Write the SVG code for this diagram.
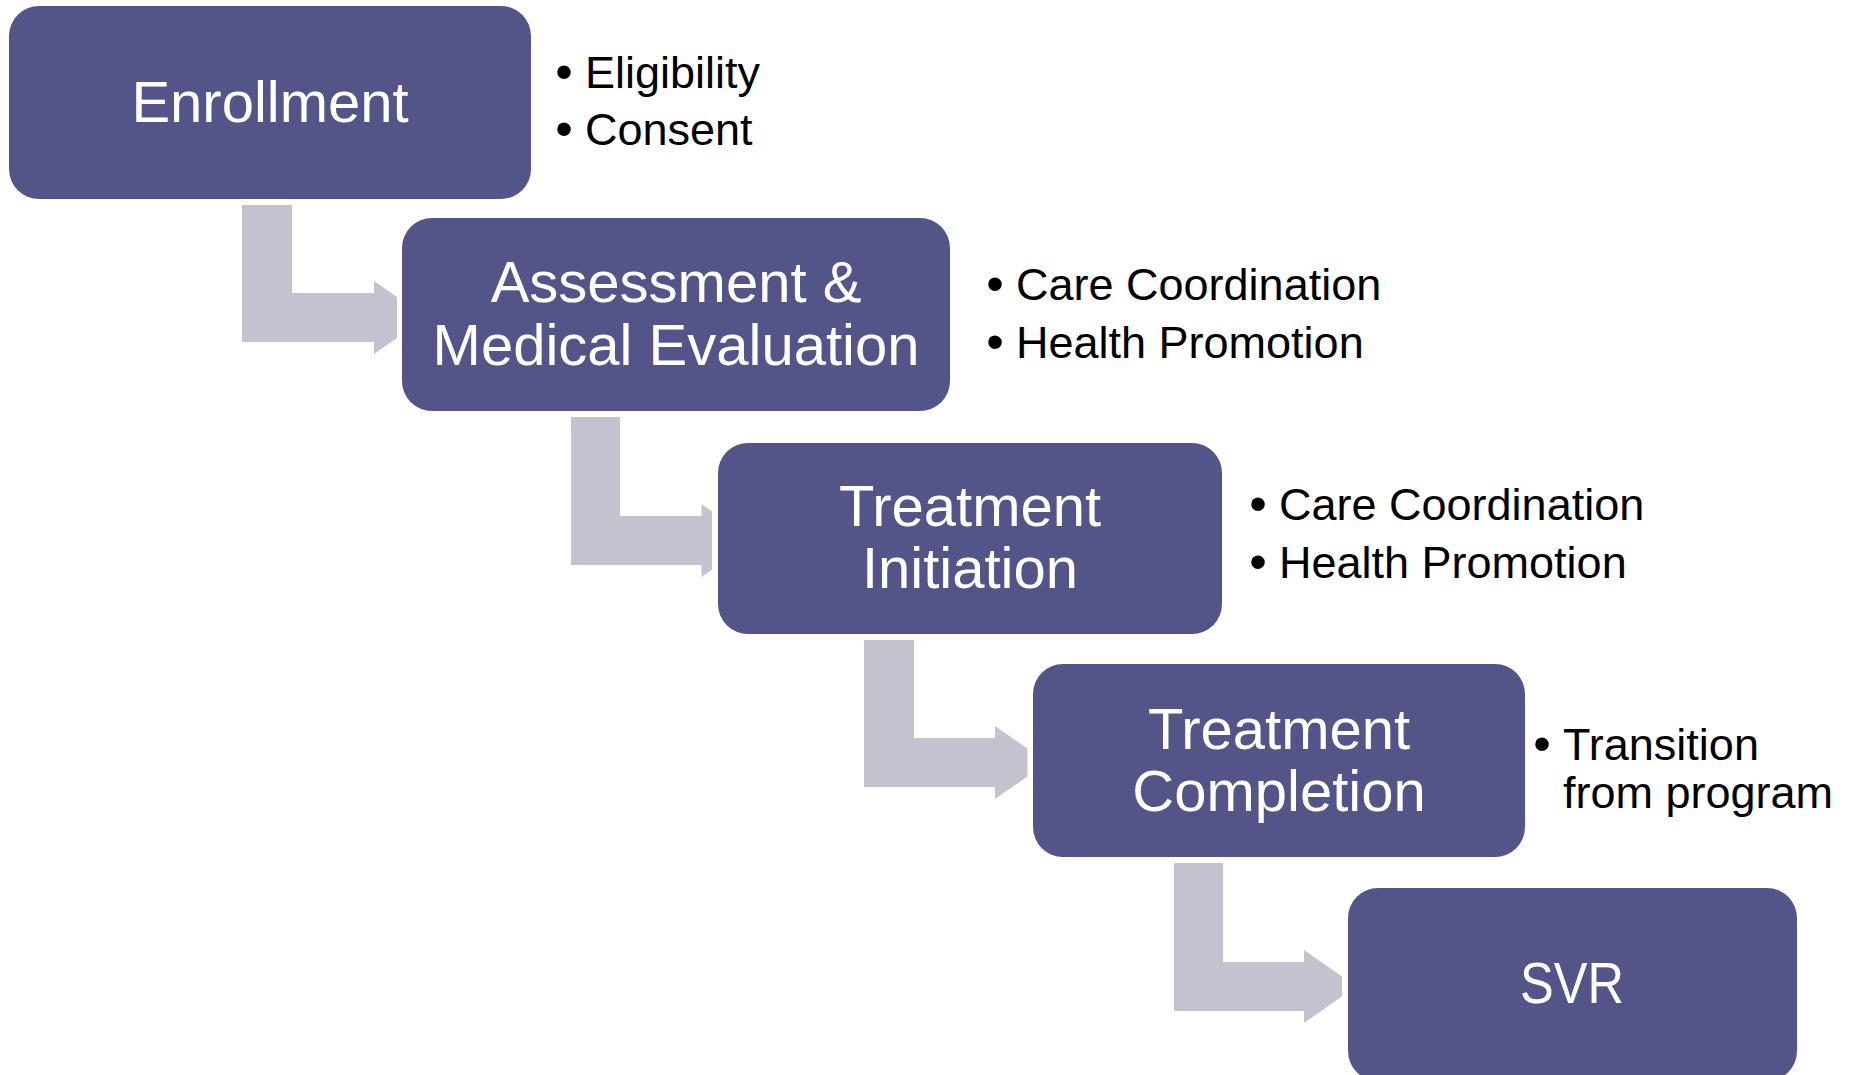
<svg xmlns="http://www.w3.org/2000/svg" width="1850" height="1075" viewBox="0 0 1850 1075">
<style>
.box{fill:#535589}
.lbl{font-family:"Liberation Sans",Arial,sans-serif;font-size:58px;fill:#ffffff;text-anchor:middle}
.bul{font-family:"Liberation Sans",Arial,sans-serif;font-size:45px;fill:#000000}
.dot{font-family:"Liberation Sans",Arial,sans-serif;font-size:50px;fill:#000000;text-anchor:middle}
.arr{fill:#C3C3CF}
</style>
<rect width="1850" height="1075" fill="#ffffff"/>
<g id="connectors">
<polygon class="arr" points="242,205 292,205 292,293 374,293 374,281 397,297 397,338 374,354 374,342 242,342"/>
<polygon class="arr" points="571,417 620,417 620,516 701.5,516 701.5,504 712,511.3 712,569.7 701.5,577 701.5,565 571,565"/>
<polygon class="arr" points="864,640 914,640 914,738 995,738 995,726 1027.5,748.6 1027.5,776.4 995,799 995,787 864,787"/>
<polygon class="arr" points="1174,863 1223,863 1223,962 1304,962 1304,950 1342,976.4 1342,996.6 1304,1023 1304,1011 1174,1011"/>
</g>
<g id="enrollment">
<rect class="box" x="9" y="6" width="522" height="193" rx="30"/>
<text class="lbl" x="270" y="122">Enrollment</text>
</g>
<g id="enrollment-notes">
<text class="dot" x="564" y="89">•</text><text class="bul" x="585" y="88">Eligibility</text>
<text class="dot" x="564" y="146">•</text><text class="bul" x="585" y="145">Consent</text>
</g>
<g id="assessment">
<rect class="box" x="402" y="218" width="548" height="193" rx="30"/>
<text class="lbl" x="676" y="302">Assessment &amp;</text>
<text class="lbl" x="676" y="365">Medical Evaluation</text>
</g>
<g id="assessment-notes">
<text class="dot" x="995" y="301">•</text><text class="bul" x="1016" y="300">Care Coordination</text>
<text class="dot" x="995" y="359">•</text><text class="bul" x="1016" y="358">Health Promotion</text>
</g>
<g id="treatment-initiation">
<rect class="box" x="718" y="443" width="504" height="191" rx="30"/>
<text class="lbl" x="970" y="526">Treatment</text>
<text class="lbl" x="970" y="588">Initiation</text>
</g>
<g id="initiation-notes">
<text class="dot" x="1258" y="521">•</text><text class="bul" x="1279" y="520">Care Coordination</text>
<text class="dot" x="1258" y="579">•</text><text class="bul" x="1279" y="578">Health Promotion</text>
</g>
<g id="treatment-completion">
<rect class="box" x="1033" y="664" width="492" height="193" rx="30"/>
<text class="lbl" x="1279" y="749">Treatment</text>
<text class="lbl" x="1279" y="811">Completion</text>
</g>
<g id="completion-notes">
<text class="dot" x="1542" y="761">•</text><text class="bul" x="1563" y="760">Transition</text>
<text class="bul" x="1563" y="808">from program</text>
</g>
<g id="svr">
<rect class="box" x="1348" y="888" width="449" height="193" rx="30"/>
<text class="lbl" x="1572" y="1003" textLength="104" lengthAdjust="spacingAndGlyphs">SVR</text>
</g>
</svg>
